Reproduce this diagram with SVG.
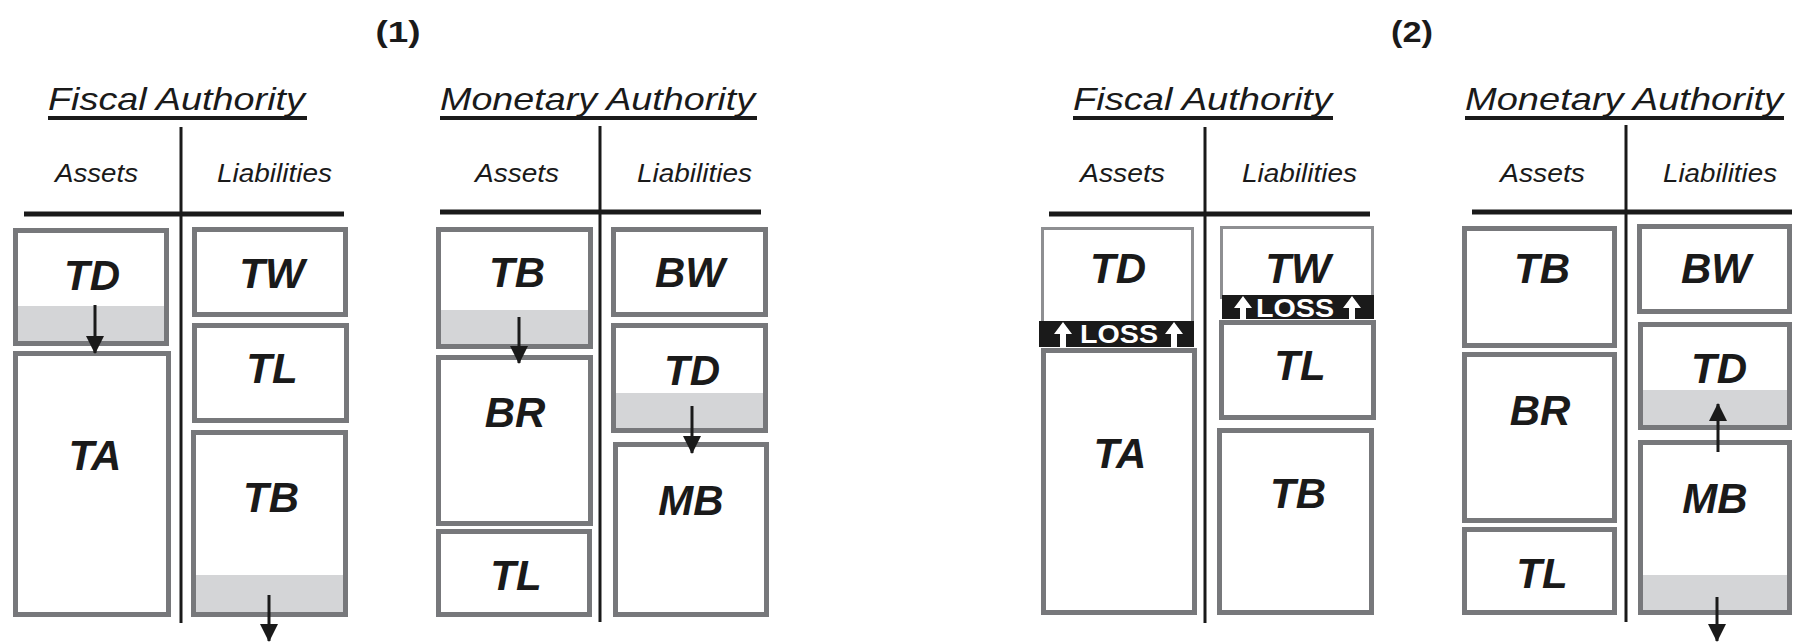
<svg xmlns="http://www.w3.org/2000/svg" width="1793" height="642" viewBox="0 0 1793 642">
<defs>
<style>
.box{fill:#fff;stroke:#77787b;stroke-width:5}
.box2{fill:#fff;stroke:#8e8f92;stroke-width:3}
.shade{fill:#d4d5d7}
.lbl{font-family:"Liberation Sans",Arial,sans-serif;font-weight:bold;font-style:italic;font-size:42px;fill:#1a1a1a;text-anchor:middle}
.title{font-family:"Liberation Sans",Arial,sans-serif;font-style:italic;font-size:32px;fill:#1a1a1a}
.col{font-family:"Liberation Sans",Arial,sans-serif;font-style:italic;font-size:26px;fill:#1a1a1a}
.num{font-family:"Liberation Sans",Arial,sans-serif;font-weight:bold;font-size:30px;fill:#1a1a1a;text-anchor:middle}
.loss{font-family:"Liberation Sans",Arial,sans-serif;font-weight:bold;font-size:26px;fill:#fff;text-anchor:middle}
.rule{stroke:#1a1a1a;fill:none}
.arr{stroke:#1a1a1a;stroke-width:3;fill:none;marker-end:url(#ah)}
.bar{fill:#1a1a1a}
.warr{fill:#fff}
</style>
<marker id="ah" markerUnits="userSpaceOnUse" markerWidth="18" markerHeight="20" viewBox="0 0 18 20" refX="17" refY="9" orient="auto">
<path d="M0,0 L18,9 L0,18 Z" fill="#1a1a1a"/>
</marker>
</defs>
<rect width="1793" height="642" fill="#fff"/>

<!-- Panel headings -->
<g id="heading1"><text class="num" x="398" y="42" textLength="45" lengthAdjust="spacingAndGlyphs">(1)</text></g>
<g id="heading2"><text class="num" x="1412" y="42" textLength="42" lengthAdjust="spacingAndGlyphs">(2)</text></g>

<!-- Panel 1 Fiscal Authority frame -->
<g id="p1-fiscal-frame">
<text class="title" x="48" y="110" textLength="257" lengthAdjust="spacingAndGlyphs">Fiscal Authority</text>
<rect x="48" y="116" width="259" height="4" fill="#1a1a1a"/>
<line class="rule" x1="181" y1="127" x2="181" y2="623" stroke-width="3"/>
<line class="rule" x1="24" y1="214" x2="344" y2="214" stroke-width="5"/>
<text class="col" x="55" y="182" textLength="83" lengthAdjust="spacingAndGlyphs">Assets</text>
<text class="col" x="217" y="182" textLength="115" lengthAdjust="spacingAndGlyphs">Liabilities</text>
</g>
<g id="p1-f-TD"><rect class="box" x="15.5" y="230.5" width="151" height="113"/><rect class="shade" x="18" y="306" width="146" height="35"/><text class="lbl" x="92" y="290">TD</text></g>
<g id="p1-f-TA"><rect class="box" x="15.5" y="353.5" width="153" height="261"/><text class="lbl" x="95" y="470">TA</text></g>
<g id="p1-f-TW"><rect class="box" x="194.5" y="229.5" width="151" height="85"/><text class="lbl" x="272" y="288">TW</text></g>
<g id="p1-f-TL"><rect class="box" x="194.5" y="325.5" width="152" height="95"/><text class="lbl" x="272" y="383">TL</text></g>
<g id="p1-f-TB"><rect class="box" x="193.5" y="432.5" width="152" height="182"/><rect class="shade" x="196" y="575" width="147" height="37"/><text class="lbl" x="271" y="512">TB</text></g>

<!-- Panel 1 Monetary Authority frame -->
<g id="p1-monetary-frame">
<text class="title" x="440" y="110" textLength="315" lengthAdjust="spacingAndGlyphs">Monetary Authority</text>
<rect x="440" y="116" width="317" height="4" fill="#1a1a1a"/>
<line class="rule" x1="600" y1="126" x2="600" y2="622" stroke-width="3"/>
<line class="rule" x1="440" y1="212" x2="761" y2="212" stroke-width="5"/>
<text class="col" x="475" y="182" textLength="84" lengthAdjust="spacingAndGlyphs">Assets</text>
<text class="col" x="637" y="182" textLength="115" lengthAdjust="spacingAndGlyphs">Liabilities</text>
</g>
<g id="p1-m-TB"><rect class="box" x="438.5" y="229.5" width="152" height="117"/><rect class="shade" x="441" y="310" width="147" height="34"/><text class="lbl" x="517" y="287">TB</text></g>
<g id="p1-m-BR"><rect class="box" x="438.5" y="357.5" width="152" height="166"/><text class="lbl" x="515" y="427">BR</text></g>
<g id="p1-m-TL"><rect class="box" x="438.5" y="531.5" width="151" height="83"/><text class="lbl" x="516" y="590">TL</text></g>
<g id="p1-m-BW"><rect class="box" x="613.5" y="229.5" width="152" height="85"/><text class="lbl" x="690" y="287">BW</text></g>
<g id="p1-m-TD"><rect class="box" x="613.5" y="325.5" width="152" height="105"/><rect class="shade" x="616" y="393" width="147" height="35"/><text class="lbl" x="692" y="385">TD</text></g>
<g id="p1-m-MB"><rect class="box" x="615.5" y="444.5" width="151" height="170"/><text class="lbl" x="691" y="515">MB</text></g>

<!-- Panel 2 Fiscal Authority frame -->
<g id="p2-fiscal-frame">
<text class="title" x="1073" y="110" textLength="259" lengthAdjust="spacingAndGlyphs">Fiscal Authority</text>
<rect x="1073" y="116" width="260" height="4" fill="#1a1a1a"/>
<line class="rule" x1="1205" y1="127" x2="1205" y2="623" stroke-width="3"/>
<line class="rule" x1="1049" y1="214" x2="1370" y2="214" stroke-width="5"/>
<text class="col" x="1080" y="182" textLength="85" lengthAdjust="spacingAndGlyphs">Assets</text>
<text class="col" x="1242" y="182" textLength="115" lengthAdjust="spacingAndGlyphs">Liabilities</text>
</g>
<g id="p2-f-TD"><rect class="box2" x="1042.5" y="228.5" width="150" height="95"/><text class="lbl" x="1118" y="283">TD</text></g>
<g id="p2-f-TA"><rect class="box" x="1043.5" y="350.5" width="151" height="262"/><text class="lbl" x="1120" y="468">TA</text></g>
<g id="p2-f-loss1">
<rect class="bar" x="1039" y="321" width="155" height="26"/>
<path class="warr" d="M1063,322 L1072,334 L1066,334 L1066,347 L1060,347 L1060,334 L1054,334 Z"/>
<path class="warr" d="M1174,322 L1183,334 L1177,334 L1177,347 L1171,347 L1171,334 L1165,334 Z"/>
<text class="loss" x="1119" y="343" textLength="78" lengthAdjust="spacingAndGlyphs">LOSS</text>
</g>
<g id="p2-f-TW"><rect class="box2" x="1221.5" y="227.5" width="151" height="70"/><text class="lbl" x="1298" y="283">TW</text></g>
<g id="p2-f-TL"><rect class="box" x="1221.5" y="322.5" width="152" height="95"/><text class="lbl" x="1300" y="380">TL</text></g>
<g id="p2-f-TB"><rect class="box" x="1219.5" y="430.5" width="152" height="182"/><text class="lbl" x="1298" y="508">TB</text></g>
<g id="p2-f-loss2">
<rect class="bar" x="1222" y="295" width="152" height="24"/>
<path class="warr" d="M1243,296 L1252,308 L1246,308 L1246,319 L1240,319 L1240,308 L1234,308 Z"/>
<path class="warr" d="M1352,296 L1361,308 L1355,308 L1355,319 L1349,319 L1349,308 L1343,308 Z"/>
<text class="loss" x="1295" y="317" textLength="78" lengthAdjust="spacingAndGlyphs">LOSS</text>
</g>

<!-- Panel 2 Monetary Authority frame -->
<g id="p2-monetary-frame">
<text class="title" x="1465" y="110" textLength="318" lengthAdjust="spacingAndGlyphs">Monetary Authority</text>
<rect x="1465" y="116" width="319" height="4" fill="#1a1a1a"/>
<line class="rule" x1="1626" y1="125" x2="1626" y2="622" stroke-width="3"/>
<line class="rule" x1="1472" y1="212" x2="1792" y2="212" stroke-width="5"/>
<text class="col" x="1500" y="182" textLength="85" lengthAdjust="spacingAndGlyphs">Assets</text>
<text class="col" x="1663" y="182" textLength="114" lengthAdjust="spacingAndGlyphs">Liabilities</text>
</g>
<g id="p2-m-TB"><rect class="box" x="1464.5" y="228.5" width="150" height="117"/><text class="lbl" x="1542" y="283">TB</text></g>
<g id="p2-m-BR"><rect class="box" x="1464.5" y="354.5" width="150" height="166"/><text class="lbl" x="1540" y="425">BR</text></g>
<g id="p2-m-TL"><rect class="box" x="1464.5" y="529.5" width="150" height="83"/><text class="lbl" x="1542" y="588">TL</text></g>
<g id="p2-m-BW"><rect class="box" x="1639.5" y="226.5" width="150" height="85"/><text class="lbl" x="1716" y="283">BW</text></g>
<g id="p2-m-TD"><rect class="box" x="1640.5" y="324.5" width="149" height="103"/><rect class="shade" x="1643" y="390" width="144" height="35"/><text class="lbl" x="1719" y="383">TD</text></g>
<g id="p2-m-MB"><rect class="box" x="1640.5" y="442.5" width="149" height="170"/><rect class="shade" x="1643" y="575" width="144" height="35"/><text class="lbl" x="1715" y="513">MB</text></g>

<!-- Connectors -->
<g id="connectors">
<line class="arr" x1="95" y1="305" x2="95" y2="353"/>
<line class="arr" x1="269" y1="595" x2="269" y2="641"/>
<line class="arr" x1="519" y1="317" x2="519" y2="363"/>
<line class="arr" x1="692" y1="406" x2="692" y2="453"/>
<line class="arr" x1="1718" y1="452" x2="1718" y2="404"/>
<line class="arr" x1="1717" y1="597" x2="1717" y2="641"/>
</g>
</svg>
